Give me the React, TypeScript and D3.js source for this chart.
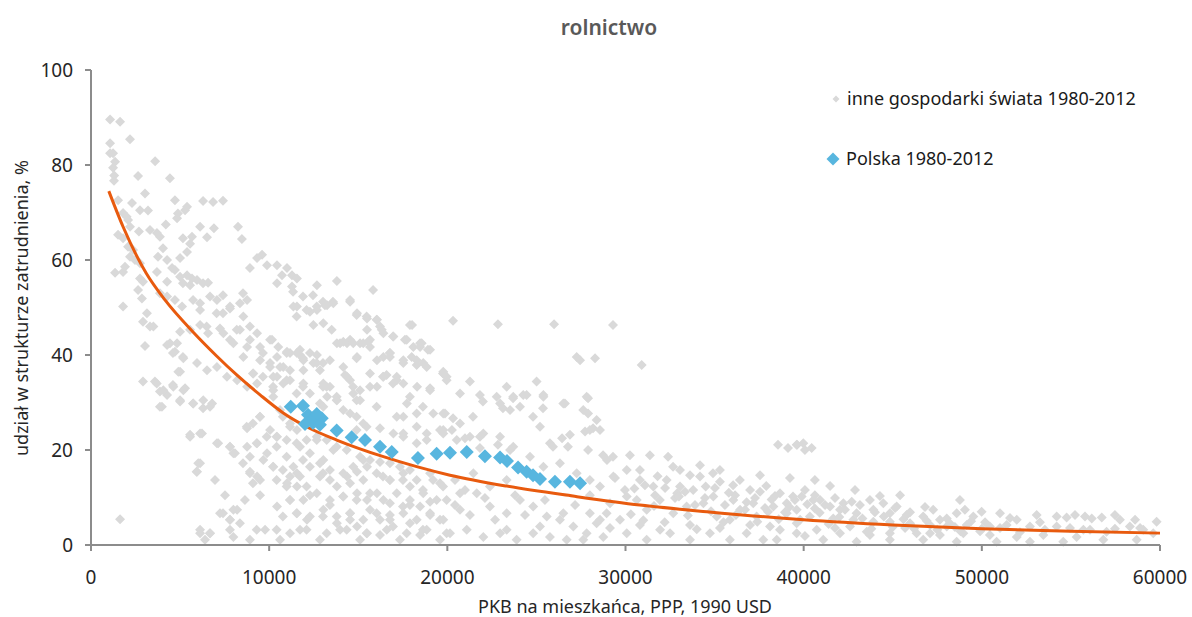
import React from "react";
import * as d3 from "d3";

// GDP per capita (thousands of 1990 USD, PPP) and agriculture's share of employment (%)
const otherEconomies: [number, number][] = [
  [1.07,89.6],[1.63,89.1],[2.19,85.4],[1.07,84.6],[1.07,82.5],[1.24,82.5],[1.35,80.7],[3.6,80.8],[1.24,79.4],[1.3,77.8],
  [2.64,77.7],[4.43,77.2],[1.29,76.7],[3.03,74.0],[1.52,72.6],[2.3,72.0],[4.71,72.6],[6.29,72.4],[6.85,72.2],[7.41,72.5],
  [5.39,71.2],[5.28,70.5],[2.75,70.5],[3.2,70.4],[1.8,69.9],[2.0,69.1],[4.88,69.8],[4.83,68.8],[2.08,68.4],[2.19,67.0],
  [4.2,67.5],[6.12,67.0],[6.9,66.7],[8.25,67.0],[2.69,66.0],[3.31,66.3],[3.7,65.7],[3.87,64.9],[1.52,65.3],[1.8,64.6],
  [8.47,64.4],[6.51,64.8],[5.16,64.6],[5.67,64.9],[2.08,62.8],[2.36,62.1],[4.04,62.5],[5.56,63.4],[5.39,61.7],[2.19,60.7],
  [2.47,60.0],[2.75,59.3],[3.76,60.7],[4.27,60.0],[5.0,60.4],[9.6,61.1],[9.32,60.4],[8.92,58.3],[9.88,58.9],[10.44,58.9],
  [11.0,58.3],[1.91,58.6],[1.8,57.5],[1.35,57.3],[3.7,57.5],[4.55,58.3],[4.71,57.9],[2.75,56.1],[2.92,55.4],[4.27,55.4],
  [5.0,56.5],[5.39,56.8],[5.67,56.1],[5.95,55.8],[5.16,55.1],[5.56,54.7],[6.29,55.1],[6.57,55.2],[10.44,55.1],[10.72,56.8],
  [11.28,56.8],[11.56,56.1],[12.68,54.7],[13.8,55.6],[15.83,53.7],[2.64,53.7],[2.86,51.9],[1.8,50.2],[3.87,53.0],[4.27,52.3],
  [4.71,51.6],[5.11,50.2],[5.73,51.6],[6.12,50.9],[6.68,52.3],[7.07,51.6],[7.41,52.6],[7.8,49.8],[7.41,48.8],[8.53,53.0],
  [8.76,51.6],[8.36,50.9],[11.28,54.4],[11.34,53.3],[11.9,52.3],[12.46,52.6],[13.02,51.2],[13.58,51.2],[14.54,51.2],[11.56,50.2],
  [12.29,49.1],[12.68,49.5],[13.25,50.5],[14.93,48.8],[15.49,47.7],[16.05,47.4],[18.02,46.3],[3.14,48.8],[2.92,47.0],
  [3.31,46.0],[4.27,42.1],[3.03,41.9],[4.83,42.5],[5.56,45.3],[6.12,46.3],[6.57,44.6],[7.24,45.6],[7.8,43.2],[8.36,45.3],
  [8.76,41.7],[9.32,44.6],[9.65,40.4],[10.16,43.2],[10.44,39.6],[11.0,40.7],[11.56,40.4],[11.9,39.3],[12.68,40.0],[13.02,38.3],
  [13.8,42.5],[14.37,42.5],[14.93,39.6],[15.49,45.3],[16.05,38.9],[16.22,46.0],[16.78,39.6],[16.95,43.9],[17.62,43.2],[18.47,41.7],
  [18.91,41.1],[19.03,33.0],[19.76,36.1],[19.59,24.2],[4.6,40.4],[5.16,39.6],[5.95,38.3],[6.51,36.8],[7.07,37.5],[7.63,35.4],
  [8.2,34.7],[8.76,33.3],[9.32,34.0],[9.65,35.4],[9.09,36.1],[10.22,33.3],[10.44,35.4],[11.17,34.7],[11.9,33.3],[12.29,31.9],
  [13.02,33.3],[13.25,31.2],[13.8,30.5],[14.37,35.4],[14.71,33.3],[15.1,30.5],[15.66,36.1],[16.05,33.3],[16.39,35.4],[16.95,34.0],
  [17.73,29.8],[18.3,33.3],[18.63,29.1],[2.92,34.4],[3.59,34.4],[5.0,36.5],[5.28,33.0],[4.6,33.7],[3.87,32.3],[4.27,31.6],
  [5.0,30.2],[5.73,29.8],[6.29,28.8],[6.8,29.8],[3.98,29.1],[5.56,22.8],[6.23,23.5],[8.76,24.6],[9.09,25.6],[9.48,27.0],
  [7.07,21.4],[7.8,20.7],[8.08,19.3],[8.76,20.7],[9.32,21.4],[9.88,19.3],[10.05,24.2],[10.44,22.8],[10.77,27.0],[11.17,25.6],
  [11.56,24.2],[6.12,17.2],[5.95,15.4],[8.53,17.2],[8.92,15.4],[9.32,14.4],[9.09,13.0],[10.22,16.5],[10.77,15.8],[11.17,14.4],
  [11.56,15.1],[11.0,13.0],[11.56,12.3],[11.9,17.9],[12.29,16.5],[12.85,17.2],[13.02,15.1],[13.41,13.7],[13.8,12.3],[14.37,14.4],
  [14.93,15.4],[15.49,16.5],[14.15,10.2],[14.93,10.9],[15.49,9.5],[16.05,10.9],[16.39,14.4],[16.78,13.7],[17.51,13.7],[17.9,12.3],
  [18.63,11.6],[19.2,13.7],[19.76,12.3],[16.78,8.8],[17.51,8.1],[18.47,8.1],[19.03,9.1],[10.44,8.1],[10.77,6.0],[11.56,6.7],
  [12.12,5.3],[13.02,6.0],[13.8,4.6],[14.54,6.7],[14.93,3.9],[15.49,2.5],[16.22,5.3],[16.95,3.9],[17.9,4.6],[18.63,3.2],
  [19.59,5.3],[6.12,2.5],[6.68,2.5],[7.41,6.7],[7.8,5.3],[8.2,7.4],[7.8,3.2],[1.63,5.4],
  [10.61,1.1],[11.73,3.2],[12.85,1.1],[13.98,3.2],[15.1,1.1],[16.22,2.1],[17.34,1.1],[18.47,2.1],[19.59,1.1],[11.17,9.5],
  [12.29,10.5],[13.41,8.4],[14.54,5.3],[15.66,7.4],[16.78,6.3],[17.9,8.4],[19.03,6.3],[6.96,13.7],[7.52,10.5],[8.64,9.5],
  [9.49,10.5],[6.4,1.1],[8.92,1.1],[9.77,3.2],
  [13.98,42.5],[14.54,43.2],[15.1,42.5],[15.56,42.8],[15.66,41.7],[16.32,45.3],[18.09,41.7],[18.56,42.5],[10.05,43.2],[10.51,41.7],
  [10.98,40.4],[11.73,40.0],[14.91,39.3],[16.78,40.4],[17.53,38.3],[18.0,39.6],[18.28,37.9],[18.65,38.3],[10.05,38.3],[10.61,37.5],
  [11.17,36.8],[11.92,38.9],[12.48,38.3],[12.85,36.8],[11.92,36.8],[10.98,34.7],[11.92,34.0],[13.22,33.3],[14.26,35.8],[16.59,35.8],
  [17.16,35.4],[17.53,34.0],[19.77,36.5],[19.96,35.4],[21.27,34.4],[23.33,33.3],[25.01,34.4],[25.39,31.6],[30.91,37.9],[27.26,39.6],
  [28.29,39.3],[20.71,31.9],[21.83,31.6],[22.77,31.2],[23.7,31.2],[24.45,31.6],[27.82,31.2],
  [20.32,47.2],[22.84,46.5],[25.99,46.5],[29.3,46.3],[27.45,38.9],[22.0,30.2],[22.96,29.8],[23.12,28.8],[23.52,28.4],[23.69,30.9],
  [24.08,29.1],[24.81,27.0],[25.37,28.8],[26.6,29.8],[27.9,30.9],[27.9,27.7],[19.87,27.7],[20.32,26.7],[20.71,25.6],[21.44,27.0],
  [20.26,24.2],[20.99,22.5],[21.83,22.8],[21.83,20.4],[22.84,21.1],[23.52,20.0],[25.2,24.9],[25.76,21.4],[25.93,20.7],[26.44,22.5],
  [26.77,20.7],[26.88,23.2],[27.73,23.9],[28.18,24.6],[28.57,24.2],[27.9,20.0],[28.74,18.9],[28.96,17.9],[29.3,18.6],[30.25,18.9],
  [31.37,18.9],[32.39,18.6],[32.67,16.5],[33.06,15.8],[33.62,14.7],[34.18,14.4],[34.91,15.1],[35.3,13.3],[36.04,12.6],[36.42,13.7],
  [36.99,11.6],[37.55,11.2],[38.67,10.9],[39.4,10.2],[38.56,21.1],[39.12,20.4],[39.63,21.1],
  [21.46,15.1],[22.39,12.3],[23.33,13.7],[20.71,10.9],[21.65,10.9],[19.96,9.5],[20.71,7.4],[22.39,8.1],[23.33,6.7],[24.08,9.5],
  [24.82,8.1],[25.58,6.0],[26.51,6.7],[27.07,3.9],[27.82,2.5],[28.38,4.6],[28.94,6.7],[29.69,5.3],[30.07,10.2],[30.63,9.5],
  [31.19,7.4],[31.93,9.5],[32.68,6.7],[33.43,8.1],[34.37,8.8],[35.12,6.0],[35.86,5.3],[36.43,7.4],[37.36,6.0],[38.11,3.9],
  [39.05,6.7],[39.61,2.5],[20.15,2.5],[21.09,3.2],[22.02,1.7],[22.96,2.5],[23.89,1.1],[24.82,2.5],[25.76,1.7],[26.7,1.1],
  [27.63,1.1],[28.75,1.7],[30.07,2.5],[31.19,1.1],[32.5,2.5],[33.62,1.1],[34.74,2.5],[35.86,1.1],[36.8,2.5],[37.73,1.1],
  [38.49,1.1],[23.33,3.2],[25.2,3.9],[28.0,6.7],[29.13,8.8],[28.57,12.3],[29.32,14.4],[30.07,15.8],[30.81,13.7],[31.56,12.3],
  [32.31,13.7],[33.06,12.3],[33.8,11.6],[34.93,10.2],[36.05,9.5],[37.17,8.8],[38.3,8.1],[39.05,8.8],
  [10.23,31.2],[10.61,28.4],[11.17,24.9],[10.42,22.8],[10.98,22.1],[11.54,21.4],[12.1,22.1],[12.67,22.8],[13.23,22.1],[13.79,20.7],
  [14.35,20.0],[15.1,18.6],[15.66,17.9],[16.22,17.5],[16.78,17.2],[17.34,16.5],[17.9,15.8],[14.91,24.2],[15.47,24.9],[16.22,24.6],
  [16.97,23.5],[17.53,22.8],[18.28,21.4],[18.84,23.5],[19.77,23.5],[20.53,22.1],[21.27,22.8],[22.02,23.5],[22.96,22.8],[23.7,20.7],
  [24.64,18.6],[25.39,16.5],[26.32,17.2],[27.26,15.1],[28.0,13.7],[17.53,27.0],[18.28,27.7],[19.77,27.7],[24.26,31.6],[25.39,31.2],
  [26.51,29.8],[27.63,28.4],[28.38,26.3],[28.0,24.2],[12.85,29.8],[13.79,31.2],[14.72,31.9],
  [39.61,21.1],[39.98,21.4],[40.07,20.0],[40.45,20.4],
  [39.89,10.2],[40.54,9.5],[40.92,9.5],[40.63,7.7],[41.48,8.1],[42.7,9.1],[42.04,7.4],[42.97,6.7],[43.91,7.4],[44.84,6.7],
  [45.22,8.1],[45.78,6.3],[46.71,6.0],[47.27,7.4],[48.03,5.6],[48.59,6.7],[49.52,6.0],[49.99,7.0],[51.02,6.7],[51.96,5.3],
  [53.08,6.3],[54.2,6.0],[54.76,5.8],[55.23,6.3],[55.79,6.0],[56.17,5.6],[56.73,5.8],[57.75,5.3],[59.81,4.9],[58.31,3.9],
  [59.06,3.2],[59.62,2.5],[57.0,2.8],[55.7,3.2],[54.2,3.9],[52.7,3.9],[51.39,4.2],[50.45,3.9],[49.15,4.2],[48.03,3.9],
  [47.09,4.2],[45.97,4.6],[44.84,4.9],[43.91,4.9],[42.79,5.3],[41.66,5.6],[40.35,6.0],[39.61,4.6],[40.73,3.2],[42.04,2.5],
  [43.54,2.8],[44.84,2.5],[46.34,2.5],[47.65,2.1],[48.96,2.5],[50.45,2.1],[51.96,1.7],[53.45,2.1],[55.32,1.7],[56.82,1.1],
  [58.69,1.1],[41.1,1.1],[42.97,0.7],[44.84,1.1],[46.71,1.1],[48.59,0.7],[50.83,0.7],[52.7,0.7],[54.57,0.7],[39.61,7.4],
  [43.72,9.5],[44.47,8.8],[42.23,8.8],
  [29.41,14.1],[29.97,11.6],[31.09,12.6],[31.66,10.5],[32.22,12.0],[32.78,9.9],[33.34,11.2],[33.9,8.4],[34.46,9.9],[35.02,12.0],
  [35.58,8.4],[36.15,10.5],[36.71,7.4],[37.27,9.9],[37.83,7.8],[38.39,10.3],[38.95,6.9],[39.51,9.5],[40.07,11.6],[40.63,10.5],
  [41.2,8.4],[41.76,9.9],[42.32,7.4],[43.16,8.4],[44.0,6.9],[45.13,7.8],[45.97,6.9],[46.81,8.0],[47.65,5.3],[49.05,7.4],
  [50.18,4.8],[51.58,5.7],[53.26,4.8],[57.47,6.3],[58.6,5.3],
  [29.13,3.6],[30.81,4.2],[31.94,3.2],[33.62,4.2],[35.3,3.6],[36.99,4.2],[38.67,3.2],[40.07,1.9],[41.76,3.6],[43.72,2.1],
  [45.69,3.6],[47.09,2.5],[48.49,3.8],[49.9,2.9],[51.02,3.6],[52.14,2.7],[53.54,3.2],[54.95,3.6],[56.07,3.2],[57.47,3.4],
  [58.88,3.6],[30.81,15.8],[34.18,16.8],[35.3,15.8],[37.55,14.7],[39.23,14.1],[40.63,13.7],[41.48,12.4],[42.88,11.6],[44.28,10.3],
  [45.41,10.5],[48.77,9.5],
  [20.43,8.4],[21.27,6.3],[22.11,9.9],[22.68,5.3],[23.8,10.5],[24.36,6.3],[25.48,9.5],[26.32,5.3],[27.17,8.4],[28.0,10.5],
  [28.57,5.3],[20.43,13.7],[20.99,11.6],
  // dense core between 3k and 20k
  [3.5,46.0],[4.43,42.5],[5.0,44.9],[4.71,40.7],[5.18,39.3],[4.9,36.5],[3.69,34.0],[4.06,32.6],[4.62,33.3],[5.18,32.6],
  [3.87,29.1],[5.0,30.5],[5.74,29.8],[6.3,30.5],[6.68,29.1],[5.56,23.2],[6.12,23.5],[7.14,21.4],[7.8,20.7],[7.99,19.3],
  [6.02,17.2],[5.93,15.4],[6.12,49.5],[7.05,48.8],[7.8,50.2],[8.55,48.1],[6.49,46.0],[7.43,44.6],[8.18,45.3],[8.92,46.0],
  [7.99,42.5],[8.92,43.2],[9.49,41.7],[8.55,39.6],[9.49,38.9],[10.05,37.5],[9.11,36.1],[10.23,35.4],[10.79,37.5],[11.17,40.4],
  [11.73,41.1],[12.29,40.4],[12.67,38.3],[13.04,34.0],[13.41,33.3],[13.79,30.5],[14.16,28.4],[14.54,27.7],[14.91,27.0],[15.28,25.6],
  [13.04,29.1],[11.54,31.9],[10.79,34.0],[10.23,32.6],[11.36,50.2],[12.1,49.5],[12.67,50.2],[13.13,50.5],[13.6,50.9],[11.54,48.1],
  [12.48,46.3],[13.04,46.7],[13.51,45.3],[14.54,51.6],[14.91,48.4],[15.47,48.1],[16.03,47.4],[16.41,44.6],[16.97,43.9],[17.9,46.3],
  [14.16,42.8],[14.72,42.5],[15.28,42.5],[15.66,43.2],[16.41,39.6],[16.78,40.4],[17.53,38.9],[18.28,38.9],[18.84,37.5],[17.72,43.2],
  [18.47,42.5],[19.03,41.1],[19.77,36.1],[19.96,34.7],[19.03,32.6],[17.9,31.2],[17.16,34.7],[16.41,35.4],[15.66,33.3],[15.1,32.6],
  [14.54,34.7],[14.16,37.5],[13.41,38.9],[14.91,30.5],[16.03,29.1],[17.16,27.0],[17.53,23.5],[18.28,24.9],[19.21,27.7],[19.77,24.2],
  [18.84,22.1],[8.74,24.9],[9.49,27.0],[9.3,21.4],[9.86,22.8],[10.42,20.7],[8.92,18.6],[9.67,17.9],[10.23,16.5],[10.98,18.6],
  [11.36,16.5],[11.73,20.7],[12.29,19.3],[12.67,22.1],[13.04,17.9],[13.6,20.0],[8.92,15.1],[9.49,13.7],[10.42,13.7],[10.98,12.3],
  [11.73,14.4],[12.1,12.3],[12.85,14.4],[13.41,15.8],[14.16,15.1],[14.72,16.5],[15.28,17.9],[14.54,13.0],[15.28,13.7],[16.03,15.1],
  [16.78,13.7],[17.53,15.1],[18.28,13.7],[19.03,15.1],[19.59,13.0],[11.17,9.5],[11.92,9.5],[12.67,10.9],[13.41,9.5],[14.16,10.2],
  [14.91,9.5],[15.66,10.9],[16.41,9.5],[17.16,10.9],[17.9,9.5],[18.65,10.9],[19.4,9.5],[11.54,6.7],[12.29,6.0],[13.04,7.4],
  [13.79,6.0],[14.54,6.7],[15.28,5.3],[16.03,6.7],[16.78,5.3],[17.53,6.7],[18.28,5.3],[19.03,6.7],[19.77,5.3],[10.42,3.2],
  [11.17,2.5],[12.1,3.2],[13.23,2.5],[14.35,3.2],[15.47,2.5],[16.6,3.2],[17.72,2.5],[18.84,3.2],[19.96,2.5],[6.12,3.2],
  [6.68,2.5],[7.24,6.7],[7.8,5.3],[8.36,4.6],[7.99,7.4],[9.3,3.2],[7.99,1.7],
  // dense band from 30k upwards
  [30.3,6.5],[31.0,5.2],[31.6,8.2],[32.2,4.8],[32.9,10.9],[33.5,6.2],[34.0,3.3],[34.8,7.1],[35.5,4.8],[36.2,6.3],
  [36.8,9.0],[37.4,4.9],[38.0,7.0],[38.6,5.4],[39.2,8.0],[39.8,5.3],[30.5,11.9],[31.8,14.5],[33.0,10.2],[34.5,12.3],
  [35.8,11.0],[37.9,12.4],[38.2,9.6],[40.2,8.6],[40.9,6.8],[41.4,4.4],[42.0,5.9],[42.6,3.9],[43.3,5.6],[43.8,3.4],
  [44.5,6.0],[45.0,3.8],[45.6,5.4],[46.2,3.4],[46.9,5.1],[47.5,3.2],[48.2,4.6],[48.8,2.9],[49.4,5.0],[50.0,3.4],
];

// Poland 1980–2012
const poland: [number, number][] = [
  [11.21,29.1],[11.9,29.3],[12.18,27.4],[12.46,26.7],[12.67,27.6],[12.95,26.7],[12.01,25.5],[12.46,25.7],[12.85,25.3],[13.79,24.1],
  [14.63,22.7],[15.38,22.1],[16.22,20.7],[16.88,19.6],[18.35,18.3],[19.4,19.2],[20.15,19.4],[21.09,19.6],[22.11,18.7],[22.96,18.4],
  [23.35,17.7],[23.97,16.3],[24.45,15.4],[24.81,14.7],[25.2,13.9],[26.04,13.3],[26.88,13.3],[27.45,13.0],
];

// Trend line through all observations
const trendGdp = [1.0, 1.8, 3.1, 4.15, 5.74, 7.05, 8.18, 9.49, 10.79, 12.1, 13.79, 16.41, 18.28, 20.15, 23.33, 27.05, 30.81, 34.56, 40.0, 45.0, 50.0, 55.0, 60.0];
const trendShare = [74.5, 67.0, 57.2, 51.6, 44.8, 39.8, 35.8, 31.6, 27.8, 24.9, 22.1, 18.6, 16.5, 14.7, 12.4, 10.3, 8.4, 7.0, 5.3, 4.2, 3.4, 2.9, 2.5];

const xTicks = [0, 10000, 20000, 30000, 40000, 50000, 60000];
const yTicks = [0, 20, 40, 60, 80, 100];

const title = "rolnictwo";
const xLabel = "PKB na mieszkańca, PPP, 1990 USD";
const yLabel = "udział w strukturze zatrudnienia, %";
const legendOther = "inne gospodarki świata 1980-2012";
const legendPoland = "Polska 1980-2012";

const FONT = "'Noto Sans', 'Open Sans', sans-serif";
const GREY = "#d9d9d9";
const BLUE = "#58b6df";
const ORANGE = "#e85a0e";
const AXIS = "#8c8c8c";

const diamond = (r: number) => `M0,${-r}L${r},0L0,${r}L${-r},0Z`;

export default function App() {
  const W = 1192;
  const H = 617;
  const x = d3.scaleLinear().domain([0, 60000]).range([91, 1160]);
  const y = d3.scaleLinear().domain([0, 100]).range([545, 70]);

  const trend = d3
    .line<number>()
    .x((_, i) => x(trendGdp[i] * 1000))
    .y((d) => y(d))
    .curve(d3.curveMonotoneX)(trendShare) as string;

  const [x0, x1] = x.range();
  const [y0, y1] = y.range();

  return (
    <svg
      width={W}
      height={H}
      style={{ position: "absolute", left: 0, top: 0, display: "block", background: "#fff" }}
      fontFamily={FONT}
    >
      <text x={609} y={35} textAnchor="middle" fontSize={21} fontWeight={600} fill="#595959">
        {title}
      </text>

      {/* other economies */}
      <g fill={GREY}>
        {otherEconomies.map((d, i) => (
          <path key={i} d={diamond(5)} transform={`translate(${x(d[0] * 1000)},${y(d[1])})`} />
        ))}
      </g>

      {/* fitted trend */}
      <path d={trend} fill="none" stroke={ORANGE} strokeWidth={3} />

      {/* Poland */}
      <g fill={BLUE}>
        {poland.map((d, i) => (
          <path key={i} d={diamond(7)} transform={`translate(${x(d[0] * 1000)},${y(d[1])})`} />
        ))}
      </g>

      {/* y axis */}
      <g>
        <line x1={x0} x2={x0} y1={y0} y2={y1} stroke={AXIS} strokeWidth={2} />
        {yTicks.map((t) => (
          <g key={t} transform={`translate(0,${y(t)})`}>
            <line x1={x0 - 6} x2={x0} stroke={AXIS} strokeWidth={2} />
            <text x={x0 - 18} dy="0.35em" textAnchor="end" fontSize={19} fill="#262626">
              {t}
            </text>
          </g>
        ))}
      </g>

      {/* x axis */}
      <g>
        <line x1={x0} x2={x1} y1={y0} y2={y0} stroke={AXIS} strokeWidth={2} />
        {xTicks.map((t) => (
          <g key={t} transform={`translate(${x(t)},0)`}>
            <line y1={y0} y2={y0 + 6} stroke={AXIS} strokeWidth={2} />
            <text y={y0 + 39} textAnchor="middle" fontSize={19} fill="#262626">
              {t}
            </text>
          </g>
        ))}
      </g>

      <text x={625} y={613} textAnchor="middle" fontSize={18} fill="#262626">
        {xLabel}
      </text>
      <text
        transform={`translate(28,308) rotate(-90)`}
        textAnchor="middle"
        fontSize={18}
        fill="#262626"
      >
        {yLabel}
      </text>

      {/* legend */}
      <g>
        <path d={diamond(3.5)} fill={GREY} transform="translate(836,99)" />
        <text x={847} y={105} fontSize={18} fill="#1a1a1a">
          {legendOther}
        </text>
        <path d={diamond(6.5)} fill={BLUE} transform="translate(833,159)" />
        <text x={846} y={165} fontSize={18} fill="#1a1a1a">
          {legendPoland}
        </text>
      </g>
    </svg>
  );
}
